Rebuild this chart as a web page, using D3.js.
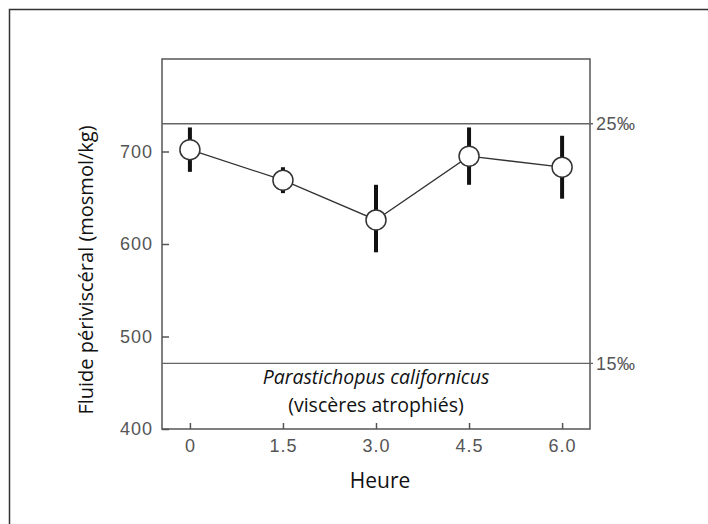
<!DOCTYPE html>
<html>
<head>
<meta charset="utf-8">
<script src="https://cdn.jsdelivr.net/npm/d3@7"></script>
<style>
  body { margin: 0; background: #fff; }
  .tick text { font-family: "Liberation Sans", Arial, sans-serif; font-size: 18px; fill: #555; letter-spacing: 1px; }
  .label { font-family: "Open Sans", sans-serif; font-size: 20px; fill: #111; }
</style>
</head>
<body>
<script>
//data
var hours = [0, 1.5, 3.0, 4.5, 6.0];
var means = [702, 669, 626, 695, 683];
var lower = [678, 655, 591, 664, 649];
var upper = [726, 683, 664, 726, 717];
var yTicks = [400, 500, 600, 700];
var xTickLabels = ["0", "1.5", "3.0", "4.5", "6.0"];
var salinity = [730, 471];
var salinityLabels = ["25\u2030", "15\u2030"];

window.onload = function(){

    var w = 708, h = 524;

    var svg = d3.select("body")
        .append("svg")
        .attr("width", w)
        .attr("height", h);

    //outer frame (open on right and bottom)
    svg.append("path")
        .attr("d", "M9.5," + h + "V9.5H" + w)
        .style("fill", "none")
        .style("stroke", "#333")
        .style("stroke-width", 1.5);

    //scales
    var x = d3.scaleLinear()
        .domain([-0.45, 6.45])
        .range([162, 590]);

    var y = d3.scaleLinear()
        .domain([400, 800])
        .range([429, 59]);

    var axisColor = "#555";

    //plot box
    svg.append("rect")
        .attr("x", x(-0.45))
        .attr("y", y(800))
        .attr("width", x(6.45) - x(-0.45))
        .attr("height", y(400) - y(800))
        .style("fill", "none")
        .style("stroke", axisColor)
        .style("stroke-width", 1.5);

    //y axis
    var yAxis = svg.append("g")
        .attr("transform", "translate(" + x(-0.45) + ",0)")
        .call(d3.axisLeft(y).tickValues(yTicks).tickSize(-7).tickPadding(9));
    yAxis.select(".domain").remove();
    yAxis.selectAll("line").style("stroke", axisColor).style("stroke-width", 1.5);

    //x axis
    var xAxis = svg.append("g")
        .attr("transform", "translate(0," + y(400) + ")")
        .call(d3.axisBottom(x).tickValues(hours).tickSize(-6).tickPadding(10)
            .tickFormat(function(d, i){ return xTickLabels[i]; }));
    xAxis.select(".domain").remove();
    xAxis.selectAll("line").style("stroke", axisColor).style("stroke-width", 1.5);

    //salinity reference lines
    svg.selectAll(".salLine")
        .data(salinity)
        .enter()
        .append("line")
        .attr("class", "salLine")
        .attr("x1", x(-0.45))
        .attr("x2", x(6.45) + 3)
        .attr("y1", function(d){ return y(d); })
        .attr("y2", function(d){ return y(d); })
        .style("stroke", "#666")
        .style("stroke-width", 1.3);

    svg.selectAll(".salLabel")
        .data(salinity)
        .enter()
        .append("text")
        .attr("class", "salLabel")
        .attr("x", x(6.45) + 6)
        .attr("y", function(d){ return y(d); })
        .attr("dy", "0.35em")
        .style("font-family", "Liberation Sans, Arial, sans-serif")
        .style("font-size", "18px")
        .style("letter-spacing", "0.5px")
        .style("fill", "#555")
        .text(function(d, i){ return salinityLabels[i]; });

    //connecting line
    var line = d3.line()
        .x(function(d, i){ return x(hours[i]); })
        .y(function(d){ return y(d); });

    svg.append("path")
        .datum(means)
        .attr("d", line)
        .style("fill", "none")
        .style("stroke", "#333")
        .style("stroke-width", 1.3);

    //error bars
    svg.selectAll(".err")
        .data(hours)
        .enter()
        .append("line")
        .attr("class", "err")
        .attr("x1", function(d){ return x(d); })
        .attr("x2", function(d){ return x(d); })
        .attr("y1", function(d, i){ return y(lower[i]); })
        .attr("y2", function(d, i){ return y(upper[i]); })
        .style("stroke", "#111")
        .style("stroke-width", 4);

    //points
    svg.selectAll(".pt")
        .data(means)
        .enter()
        .append("circle")
        .attr("class", "pt")
        .attr("cx", function(d, i){ return x(hours[i]); })
        .attr("cy", function(d){ return y(d); })
        .attr("r", 10)
        .style("fill", "#fff")
        .style("stroke", "#333")
        .style("stroke-width", 1.5);

    //species label, two separate lines
    svg.append("text")
        .attr("class", "label")
        .attr("text-anchor", "middle")
        .attr("x", x(3))
        .attr("y", 384)
        .style("font-size", "19.5px")
        .style("font-style", "italic")
        .text("Parastichopus californicus");

    svg.append("text")
        .attr("class", "label")
        .attr("text-anchor", "middle")
        .attr("x", x(3))
        .attr("y", 412)
        .style("font-size", "19.5px")
        .text("(viscères atrophiés)");

    //axis titles
    svg.append("text")
        .attr("class", "label")
        .attr("text-anchor", "middle")
        .attr("x", x(3) + 4)
        .attr("y", 488)
        .style("font-size", "21px")
        .text("Heure");

    svg.append("text")
        .attr("class", "label")
        .attr("text-anchor", "middle")
        .attr("transform", "translate(93,270) rotate(-90)")
        .text("Fluide périviscéral (mosmol/kg)");
};
</script>
</body>
</html>
